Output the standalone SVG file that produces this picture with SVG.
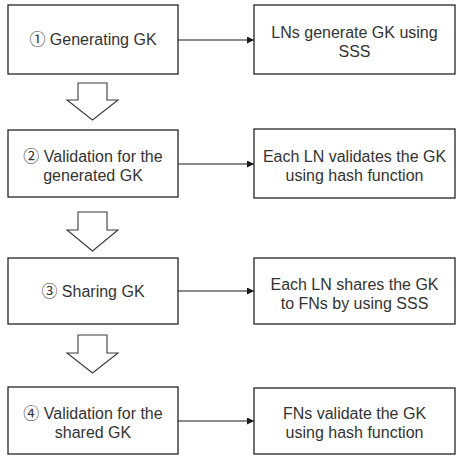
<svg xmlns="http://www.w3.org/2000/svg" width="458" height="458" viewBox="0 0 458 458">
  <style>
    .box { fill: #ffffff; stroke: #262626; stroke-width: 1.3; }
    .block { fill: #ffffff; stroke: #3a3a3a; stroke-width: 1.1; stroke-linejoin: miter; }
    .link { stroke: #1a1a1a; stroke-width: 1.1; fill: none; }
    text { font-family: "Liberation Sans", "Noto Sans CJK KR", sans-serif; font-size: 16px; fill: #333333; text-anchor: middle; }
  </style>
  <defs>
    <marker id="head" viewBox="0 0 10 10" refX="10" refY="5" markerWidth="7" markerHeight="7" markerUnits="userSpaceOnUse" orient="auto">
      <path d="M0,0 L10,5 L0,10 z" fill="#1a1a1a"/>
    </marker>
  </defs>
  <rect width="458" height="458" fill="#ffffff"/>

  <!-- horizontal links from each step to its description -->
  <g id="connectors">
    <line class="link" x1="178" y1="40" x2="254" y2="40" marker-end="url(#head)"/>
    <line class="link" x1="178" y1="164" x2="254" y2="164" marker-end="url(#head)"/>
    <line class="link" x1="178" y1="291" x2="254" y2="291" marker-end="url(#head)"/>
    <line class="link" x1="178" y1="421" x2="254" y2="421" marker-end="url(#head)"/>
    <!-- outlined block arrows between steps -->
    <path class="block" d="M78,83 H107 V100 H118 L92.5,120 L67,100 H78 Z"/>
    <path class="block" d="M78,212 H107 V230 H118 L92.5,251 L67,230 H78 Z"/>
    <path class="block" d="M78,335 H107 V353 H118 L92.5,373 L67,353 H78 Z"/>
  </g>

  <g id="step1">
    <rect class="box" x="8" y="5" width="170" height="69"/>
    <text x="93" y="45">① Generating GK</text>
  </g>
  <g id="desc1">
    <rect class="box" x="254" y="5" width="201" height="69"/>
    <text x="354.5" y="38">LNs generate GK using</text>
    <text x="354.5" y="57">SSS</text>
  </g>

  <g id="step2">
    <rect class="box" x="8" y="130" width="170" height="67"/>
    <text x="93" y="162">② Validation for the</text>
    <text x="93" y="181">generated GK</text>
  </g>
  <g id="desc2">
    <rect class="box" x="254" y="129" width="201" height="69"/>
    <text x="354.5" y="162">Each LN validates the GK</text>
    <text x="354.5" y="181">using hash function</text>
  </g>

  <g id="step3">
    <rect class="box" x="8" y="258" width="170" height="66"/>
    <text x="93" y="297">③ Sharing GK</text>
  </g>
  <g id="desc3">
    <rect class="box" x="254" y="258" width="201" height="66"/>
    <text x="354.5" y="290">Each LN shares the GK</text>
    <text x="354.5" y="309">to FNs by using SSS</text>
  </g>

  <g id="step4">
    <rect class="box" x="8" y="387" width="170" height="67"/>
    <text x="93" y="419">④ Validation for the</text>
    <text x="93" y="438">shared GK</text>
  </g>
  <g id="desc4">
    <rect class="box" x="254" y="388" width="201" height="66"/>
    <text x="354.5" y="419">FNs validate the GK</text>
    <text x="354.5" y="438">using hash function</text>
  </g>
</svg>
